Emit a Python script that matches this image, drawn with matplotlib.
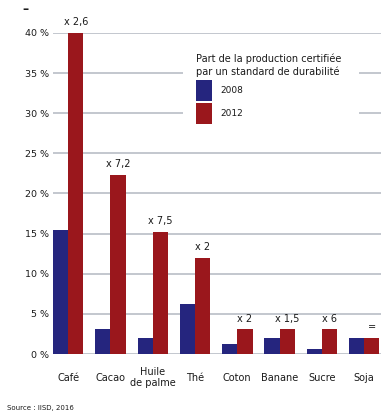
import numpy as np
import matplotlib
matplotlib.use("Agg")
import matplotlib.pyplot as plt
from matplotlib.patches import Rectangle

plt.rcParams['font.family'] = ['Liberation Sans Narrow', 'DejaVu Sans']

# Share of production certified by a sustainability standard (%)
produits = ["Café", "Cacao", "Huile\nde palme", "Thé", "Coton", "Banane", "Sucre", "Soja"]
part_2008 = [15.4, 3.1, 2.0, 6.2, 1.2, 2.0, 0.6, 2.0]
part_2012 = [40.0, 22.3, 15.2, 12.0, 3.1, 3.1, 3.1, 2.0]
evolution = ["x 2,6", "x 7,2", "x 7,5", "x 2", "x 2", "x 1,5", "x 6", "="]
yticks = [0, 5, 10, 15, 20, 25, 30, 35, 40]

bleu = "#25257e"
rouge = "#9a171c"
gris = "#c3c7ce"
encre = "#1a1a1a"

W, H = 382, 415
fig = plt.figure(figsize=(W / 100, H / 100), dpi=100)
ax = fig.add_axes([53 / W, (H - 354) / H, (381 - 53) / W, (354 - 33) / H])

x = np.arange(len(produits))
w = 0.36
ax.bar(x - w / 2, part_2008, w, color=bleu, label="2008", zorder=3)
ax.bar(x + w / 2, part_2012, w, color=rouge, label="2012", zorder=3)

for xi, v, txt in zip(x, part_2012, evolution):
    ax.text(xi + w / 2, v + 0.7, txt, ha="center", va="bottom",
            fontsize=7, color=encre, clip_on=False)

ax.set_xlim(-0.36, 7.4)
ax.set_ylim(0, 40)
ax.set_yticks(yticks)
ax.set_yticklabels([f"{t} %" for t in yticks], fontsize=6.8, color=encre)
ax.set_xticks(x)
ax.set_xticklabels(produits, fontsize=7, color=encre, linespacing=1.05,
                   va="center")
ax.tick_params(axis="both", length=0)
ax.tick_params(axis="y", pad=3)
ax.tick_params(axis="x", pad=17)
ax.grid(axis="y", color=gris, linewidth=1.4, zorder=0)
for s in ax.spines.values():
    s.set_visible(False)

# white block behind the legend hides the gridlines there
ax.add_patch(Rectangle((2.72, 27.0), 6.88 - 2.72, 10.5, facecolor="white",
                       edgecolor="none", zorder=2.5))

leg = ax.legend(title="Part de la production certifiée\npar un standard de durabilité",
                loc="upper left", bbox_to_anchor=(196 / W, 1 - 53 / H),
                bbox_transform=fig.transFigure, frameon=False,
                fontsize=6.5, title_fontsize=7, alignment="left",
                handlelength=1.75, handleheight=3.1, handletextpad=0.9,
                labelspacing=0.3, borderpad=0, borderaxespad=0)
leg.get_title().set_linespacing(1.4)
for t in leg.get_texts():
    t.set_color(encre)
leg.get_title().set_color(encre)

fig.text(22 / W, 1 - 10 / H, "–", fontsize=9, fontweight="bold",
         ha="left", va="center", color=encre)
fig.text(7 / W, 1 - 408 / H, "Source : IISD, 2016", fontsize=5,
         ha="left", va="center", color=encre)

fig.savefig("out.png", dpi=100)
